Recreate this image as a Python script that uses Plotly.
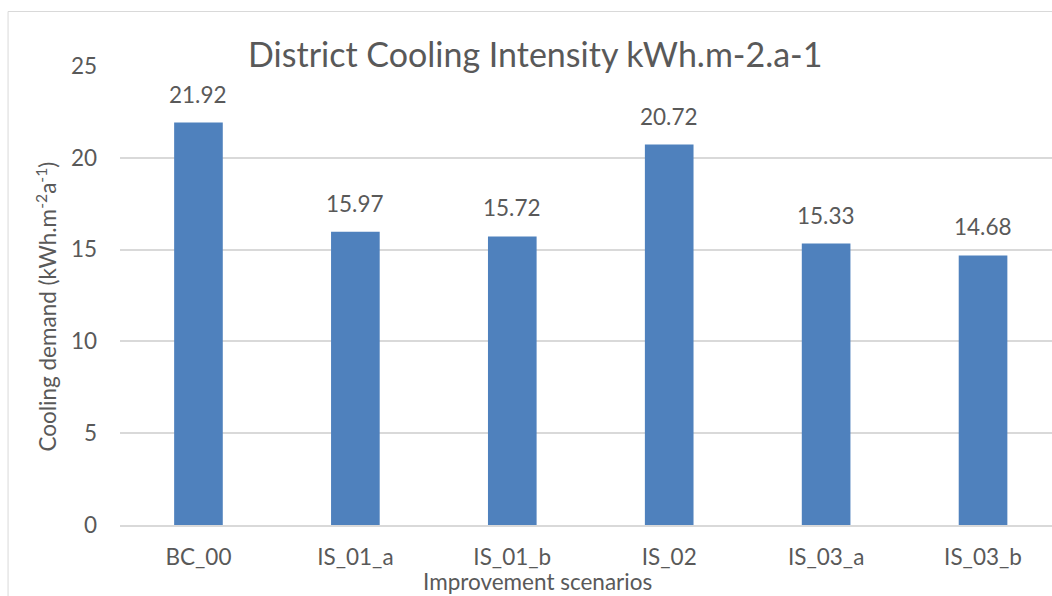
import plotly.graph_objects as go

categories = ["BC_00", "IS_01_a", "IS_01_b", "IS_02", "IS_03_a", "IS_03_b"]
values = [21.92, 15.97, 15.72, 20.72, 15.33, 14.68]
y_ticks = [0, 5, 10, 15, 20, 25]
title_text = "District Cooling Intensity kWh.m-2.a-1"
y_title = "Cooling demand (kWh.m<sup>-2</sup>a<sup>-1</sup>)"
x_title = "Improvement scenarios"

W, H = 1052, 596
L, R, T, B = 119.5, 0, 66, 71
pw = W - L - R
ph = H - T - B

def px_x(p):
    return (p - L) / pw

def px_y(p):
    return (H - B - p) / ph

FONT = "Lato"
TXT = "#595959"
GRID = "#d9d9d9"
BAR = "#4f81bd"
FS = 22.5

fig = go.Figure()
fig.add_trace(go.Bar(
    x=list(range(len(categories))), y=values,
    marker=dict(color=BAR, line=dict(width=0)),
    hoverinfo="x+y",
))

annotations = []
for i, v in enumerate(values):
    annotations.append(dict(x=i, y=v, xref="x", yref="y", text=f"{v:.2f}",
                            showarrow=False, yanchor="bottom", yshift=13,
                            font=dict(family=FONT, size=FS, color=TXT)))
annotations.append(dict(x=px_x(537), y=px_y(581), xref="paper", yref="paper",
                        text=x_title, showarrow=False, xanchor="center", yanchor="middle",
                        font=dict(family=FONT, size=FS, color=TXT)))
annotations.append(dict(x=px_x(45), y=px_y(307), xref="paper", yref="paper",
                        text=y_title, showarrow=False, textangle=-90,
                        xanchor="center", yanchor="middle",
                        font=dict(family=FONT, size=FS, color=TXT)))

fig.update_layout(
    width=W, height=H,
    margin=dict(l=L, r=R, t=T, b=B, pad=0),
    paper_bgcolor="white", plot_bgcolor="white",
    showlegend=False,
    bargap=0.69,
    title=dict(text=title_text, x=px_x(535), xref="paper", xanchor="center",
               y=1 - 55 / H, yref="container", yanchor="middle",
               font=dict(family=FONT, size=34, color=TXT)),
    annotations=annotations,
    shapes=[dict(type="rect", xref="paper", yref="paper",
                 x0=px_x(7.5), x1=px_x(1100), y0=px_y(700), y1=px_y(11.5),
                 line=dict(color=GRID, width=1), fillcolor="rgba(0,0,0,0)", layer="below")],
    xaxis=dict(
        range=[-0.5, -0.5 + pw / 157.0],
        tickmode="array", tickvals=list(range(len(categories))), ticktext=categories,
        showgrid=False, zeroline=False, showline=True, linecolor=GRID, linewidth=1.5,
        ticks="", ticklabelstandoff=11,
        tickfont=dict(family=FONT, size=FS, color=TXT),
    ),
    yaxis=dict(
        range=[0, 25], tickmode="array", tickvals=y_ticks,
        showgrid=True, gridcolor=GRID, gridwidth=1.5, zeroline=False, showline=False,
        ticks="", ticklabelstandoff=22,
        tickfont=dict(family=FONT, size=FS, color=TXT),
    ),
)

fig.write_html("out.html")
